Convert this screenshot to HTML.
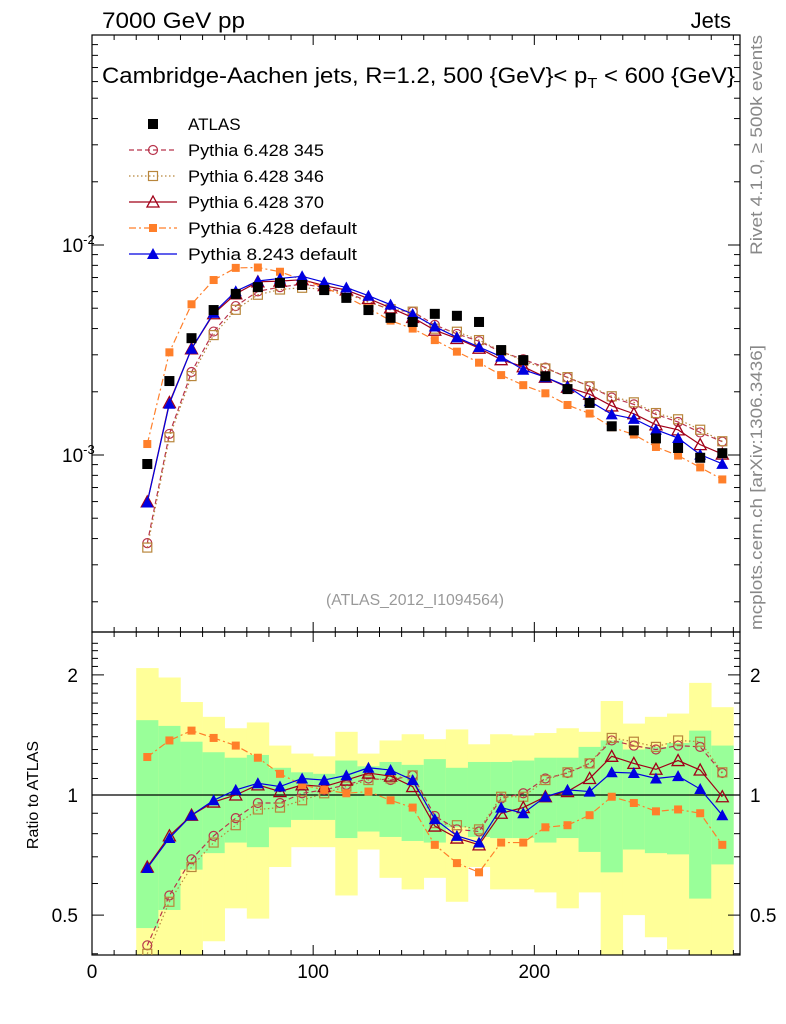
<!DOCTYPE html>
<html><head><meta charset="utf-8">
<style>
body{margin:0;background:#fff;}
svg{display:block;font-family:"Liberation Sans",Arial,sans-serif;}
</style></head>
<body>
<svg id="chart" width="786" height="1024" viewBox="0 0 786 1024" xmlns="http://www.w3.org/2000/svg">
<text x="102" y="28" font-size="22" textLength="143" lengthAdjust="spacingAndGlyphs">7000 GeV pp</text>
<text x="731" y="28" font-size="22" text-anchor="end">Jets</text>
<text x="102" y="83" font-size="22" textLength="633" lengthAdjust="spacingAndGlyphs">Cambridge-Aachen jets, R=1.2, 500 {GeV}&lt; p<tspan font-size="15" dy="5">T</tspan><tspan dy="-5"> &lt; 600 {GeV}</tspan></text>
<text x="415" y="605" font-size="16" fill="#999" text-anchor="middle" textLength="178" lengthAdjust="spacingAndGlyphs">(ATLAS_2012_I1094564)</text>
<text transform="translate(762,255) rotate(-90)" font-size="17" fill="#888" textLength="220" lengthAdjust="spacingAndGlyphs">Rivet 4.1.0, ≥ 500k events</text>
<text transform="translate(762,630) rotate(-90)" font-size="17" fill="#888" textLength="285" lengthAdjust="spacingAndGlyphs">mcplots.cern.ch [arXiv:1306.3436]</text>
<text transform="translate(38,795) rotate(-90)" font-size="16" text-anchor="middle">Ratio to ATLAS</text>
<g id="bands"></g>
<g id="axes"></g>
<g id="series"></g>
<g id="legend"></g>
</svg>
<script>
const xCenters=[25,35,45,55,65,75,85,95,105,115,125,135,145,155,165,175,185,195,205,215,225,235,245,255,265,275,285];
const atlas=[9.06e-4,2.25e-3,3.6e-3,4.9e-3,5.85e-3,6.3e-3,6.6e-3,6.45e-3,6.1e-3,5.6e-3,4.9e-3,4.5e-3,4.3e-3,4.7e-3,4.6e-3,4.3e-3,3.16e-3,2.83e-3,2.37e-3,2.06e-3,1.77e-3,1.37e-3,1.31e-3,1.2e-3,1.08e-3,9.7e-4,1.02e-3];
const ratio345=[0.42,0.56,0.69,0.79,0.875,0.955,0.955,1.01,1.03,1.06,1.10,1.09,1.12,0.886,0.82,0.81,0.98,1.01,1.10,1.135,1.20,1.37,1.33,1.30,1.33,1.32,1.135];
const ratio346=[0.40,0.54,0.66,0.76,0.84,0.92,0.93,0.97,1.01,1.05,1.09,1.10,1.12,0.85,0.84,0.82,0.99,0.99,1.09,1.14,1.20,1.39,1.36,1.32,1.37,1.36,1.14];
const ratio370=[0.66,0.79,0.89,0.96,1.0,1.06,1.02,1.06,1.05,1.09,1.135,1.115,1.05,0.836,0.78,0.75,0.90,0.93,0.99,1.02,1.10,1.25,1.20,1.16,1.22,1.155,0.99];
const ratioDef=[1.245,1.37,1.45,1.39,1.33,1.24,1.13,1.06,1.03,1.01,1.02,0.97,0.93,0.75,0.675,0.64,0.76,0.76,0.83,0.84,0.89,0.99,0.955,0.91,0.92,0.90,0.75];
const ratioP8=[0.656,0.78,0.89,0.97,1.03,1.07,1.05,1.10,1.09,1.12,1.17,1.155,1.09,0.87,0.79,0.76,0.93,0.90,0.99,1.03,1.02,1.14,1.135,1.10,1.115,1.035,0.89];
const yellowHi=[2.08,1.97,1.71,1.57,1.47,1.52,1.33,1.27,1.25,1.44,1.27,1.37,1.42,1.38,1.46,1.34,1.42,1.41,1.43,1.47,1.44,1.72,1.51,1.57,1.60,1.91,1.66];
const yellowLo=[0.35,0.35,0.35,0.43,0.52,0.49,0.66,0.74,0.74,0.56,0.73,0.62,0.58,0.62,0.54,0.66,0.58,0.58,0.57,0.52,0.57,0.35,0.50,0.44,0.41,0.35,0.35];
const greenHi=[1.54,1.49,1.36,1.28,1.24,1.26,1.17,1.14,1.13,1.22,1.18,1.21,1.19,1.23,1.17,1.21,1.21,1.22,1.24,1.24,1.32,1.37,1.30,1.32,1.35,1.45,1.33];
const greenLo=[0.464,0.515,0.65,0.715,0.76,0.74,0.83,0.866,0.866,0.78,0.81,0.785,0.767,0.76,0.83,0.785,0.78,0.78,0.76,0.78,0.72,0.64,0.73,0.715,0.71,0.55,0.67];
const xTicks=[0,100,200];
const ratioTicks=[0.5,1,2];

const NS="http://www.w3.org/2000/svg";
const L=92,R=740,T=35,MB=632,RB=955;
const xs=v=>L+(v)*2.2116;
const ys=v=>245-(Math.log10(v)+2)*210;
const rs=v=>795-Math.log10(v)*399;
function mk(tag,attrs,parent){const e=document.createElementNS(NS,tag);for(const k in attrs)e.setAttribute(k,attrs[k]);parent.appendChild(e);return e;}
const gB=document.getElementById('bands'),gA=document.getElementById('axes'),gS=document.getElementById('series'),gL=document.getElementById('legend');

xCenters.forEach((c,i)=>{
  const x0=xs(c-5),x1=xs(c+5);
  const y1=Math.max(MB,rs(yellowHi[i])),y2=Math.min(RB,rs(yellowLo[i]));
  let e=mk('rect',{x:x0,y:y1,width:x1-x0+0.3,height:y2-y1,fill:'#ffff99'},gB);
  
  
  const g1=rs(greenHi[i]),g2=Math.min(RB,rs(greenLo[i]));
  e=mk('rect',{x:x0,y:g1,width:x1-x0+0.3,height:g2-g1,fill:'#99ff99'},gB);
  
  
});

let f=mk('rect',{x:L,y:T,width:R-L,height:MB-T,fill:'none',stroke:'#000','stroke-width':1.2},gA);

f=mk('rect',{x:L,y:MB,width:R-L,height:RB-MB,fill:'none',stroke:'#000','stroke-width':1.2},gA);

let ln=mk('line',{x1:L,x2:R,y1:rs(1),y2:rs(1),stroke:'#000','stroke-width':1.3},gA);


for(let v=0;v<=290;v+=10){
  const major=v%100===0, len=major?10:5;
  const x=xs(v);
  [[MB,-1],[RB,-1],[T,1],[MB,1]].forEach(([y,d])=>mk('line',{x1:x,x2:x,y1:y,y2:y+d*len,stroke:'#000'},gA));
}
xTicks.forEach(v=>{const t=mk('text',{x:xs(v),y:978,'font-size':19,'text-anchor':'middle'},gA);t.textContent=v;
});

for(let d=-4;d<=-1;d++){for(let m=1;m<=9;m++){const v=m*Math.pow(10,d);const y=ys(v);if(y<T||y>MB)continue;
  const len=m===1?12:6;mk('line',{x1:L,x2:L+len,y1:y,y2:y,stroke:'#000'},gA);mk('line',{x1:R,x2:R-len,y1:y,y2:y,stroke:'#000'},gA);}}
[-2,-3].forEach(d=>{const t=mk('text',{x:62,y:ys(Math.pow(10,d))+7,'font-size':19},gA);
t.innerHTML='10<tspan font-size="13" dy="-8">'+d+'</tspan>';
});

for(let v=0.4;v<=2.5;v+=0.1){const y=rs(v);if(y<MB||y>RB)continue;
  const maj=Math.abs(v-0.5)<1e-6||Math.abs(v-1)<1e-6||Math.abs(v-2)<1e-6;const len=maj?12:6;
  mk('line',{x1:L,x2:L+len,y1:y,y2:y,stroke:'#000'},gA);mk('line',{x1:R,x2:R-len,y1:y,y2:y,stroke:'#000'},gA);}
ratioTicks.forEach(v=>{
  let t=mk('text',{x:78,y:rs(v)+7,'font-size':19,'text-anchor':'end'},gA);t.textContent=v;
  
  t=mk('text',{x:750,y:rs(v)+7,'font-size':19},gA);t.textContent=v;
  
});

function marker(kind,color,x,y,p){
  if(kind==='circ')return mk('circle',{cx:x,cy:y,r:4.5,fill:'none',stroke:color,'stroke-width':1.2},p);
  if(kind==='sqo')return mk('rect',{x:x-4.5,y:y-4.5,width:9,height:9,fill:'none',stroke:color,'stroke-width':1.2},p);
  if(kind==='tro')return mk('path',{d:`M${x},${y-6}L${x+6},${y+5}L${x-6},${y+5}Z`,fill:'none',stroke:color,'stroke-width':1.3},p);
  if(kind==='sqf')return mk('rect',{x:x-4,y:y-4,width:8,height:8,fill:color},p);
  if(kind==='trf')return mk('path',{d:`M${x},${y-6}L${x+6},${y+5}L${x-6},${y+5}Z`,fill:color},p);
  if(kind==='blk')return mk('rect',{x:x-5,y:y-5,width:10,height:10,fill:'#000'},p);
}
const series=[
 {name:'pythia-6428-345',label:'Pythia 6.428 345',r:ratio345,color:'#b8344c',dash:'5,3',m:'circ'},
 {name:'pythia-6428-346',label:'Pythia 6.428 346',r:ratio346,color:'#b8863c',dash:'1.5,2.5',m:'sqo'},
 {name:'pythia-6428-370',label:'Pythia 6.428 370',r:ratio370,color:'#a00018',dash:'',m:'tro'},
 {name:'pythia-6428-default',label:'Pythia 6.428 default',r:ratioDef,color:'#ff7f2a',dash:'7,3,2,3',m:'sqf'},
 {name:'pythia-8243-default',label:'Pythia 8.243 default',r:ratioP8,color:'#0000e0',dash:'',m:'trf'}
];
const defs=mk('defs',{},gS);
const cp1=mk('clipPath',{id:'cm'},defs);mk('rect',{x:L,y:T,width:R-L,height:MB-T},cp1);
const cp2=mk('clipPath',{id:'cr'},defs);mk('rect',{x:L,y:MB,width:R-L,height:RB-MB},cp2);
const gm=mk('g',{'clip-path':'url(#cm)'},gS),gr=mk('g',{'clip-path':'url(#cr)'},gS);
series.forEach(s=>{
  const mv=s.r.map((r,i)=>r*atlas[i]);
  const pm=xCenters.map((c,i)=>xs(c)+','+ys(mv[i])).join(' ');
  const pr=xCenters.map((c,i)=>xs(c)+','+rs(s.r[i])).join(' ');
  let e=mk('polyline',{points:pm,fill:'none',stroke:s.color,'stroke-width':1.2,'stroke-dasharray':s.dash},gm);
  
  e=mk('polyline',{points:pr,fill:'none',stroke:s.color,'stroke-width':1.2,'stroke-dasharray':s.dash},gr);
  
  xCenters.forEach((c,i)=>{
    let m=marker(s.m,s.color,xs(c),ys(mv[i]),gm);
    
    m=marker(s.m,s.color,xs(c),rs(s.r[i]),gr);
    
  });
});
xCenters.forEach((c,i)=>{const m=marker('blk','#000',xs(c),ys(atlas[i]),gm);
  });

const legY=[124,150,176,202,228,254];
let lm=marker('blk','#000',153,legY[0],gL);

let lt=mk('text',{x:188,y:legY[0]+6,'font-size':17},gL);lt.textContent='ATLAS';

const legW=[136,136,136,169,169];
series.forEach((s,i)=>{const y=legY[i+1];
  const l=mk('line',{x1:129,x2:177,y1:y,y2:y,stroke:s.color,'stroke-width':1.2,'stroke-dasharray':s.dash},gL);
  
  const m=marker(s.m,s.color,153,y,gL);
  
  const t=mk('text',{x:188,y:y+6,'font-size':17,textLength:legW[i],lengthAdjust:'spacingAndGlyphs'},gL);t.textContent=s.label;
  
});
</script>
</body></html>
